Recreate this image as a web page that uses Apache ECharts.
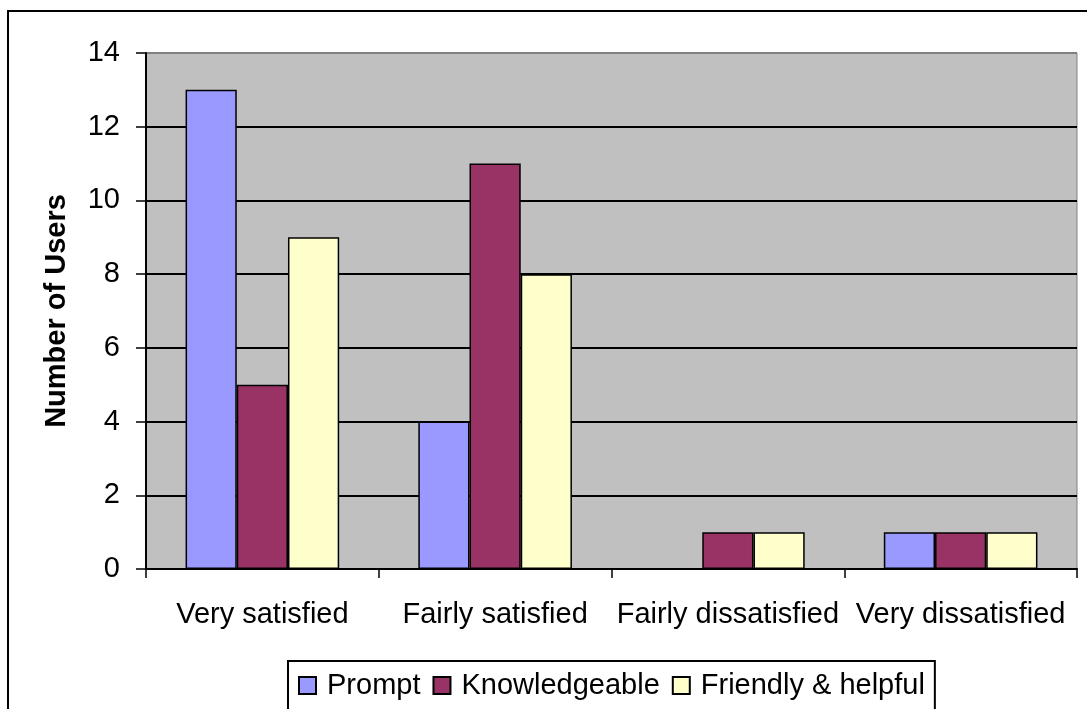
<!DOCTYPE html>
<html>
<head>
<meta charset="utf-8">
<script src="https://cdn.jsdelivr.net/npm/echarts@6/dist/echarts.min.js"></script>
<style>
html,body{margin:0;padding:0;background:#fff;}
#chart{width:1087px;height:709px;}
</style>
</head>
<body>
<div id="chart"></div>
<script>
var categories = ['Very satisfied', 'Fairly satisfied', 'Fairly dissatisfied', 'Very dissatisfied'];
var promptValues = [13, 4, 0, 1];
var knowledgeableValues = [5, 11, 1, 1];
var friendlyValues = [9, 8, 1, 1];
var seriesNames = ['Prompt', 'Knowledgeable', 'Friendly & helpful'];
var seriesColors = ['#9999FF', '#993366', '#FFFFCC'];
var yTicks = [0, 2, 4, 6, 8, 10, 12, 14];

var FONT = '"Liberation Sans", Arial, sans-serif';
var FS = 29;
var chart = echarts.init(document.getElementById('chart'), null, {renderer: 'canvas'});

function barSeries(name, data, color) {
  return {
    name: name,
    type: 'bar',
    data: data,
    barGap: '0%',
    barCategoryGap: '34%',
    itemStyle: {color: color, borderColor: '#000', borderWidth: 1.5},
    emphasis: {disabled: true}
  };
}

chart.setOption({
  animation: false,
  backgroundColor: '#fff',
  textStyle: {fontFamily: FONT},
  grid: {
    left: 146, top: 53, right: 10, bottom: 140,
    show: true, backgroundColor: '#C0C0C0', borderColor: '#808080', borderWidth: 1
  },
  legend: {
    left: 288, top: 661,
    data: seriesNames,
    itemWidth: 17, itemHeight: 17, itemGap: 12,
    padding: [10, 10, 14, 10],
    borderColor: '#000', borderWidth: 2,
    icon: 'rect',
    textStyle: {fontFamily: FONT, fontSize: FS, color: '#000', padding: [0, 0, 0, 6]}
  },
  xAxis: {
    type: 'category',
    data: categories,
    axisLine: {lineStyle: {color: '#000', width: 2}},
    axisTick: {show: true, length: 9, lineStyle: {color: '#000', width: 1.5}, alignWithLabel: false},
    axisLabel: {interval: 0, margin: 31, fontFamily: FONT, fontSize: FS, color: '#000'},
    splitLine: {show: false}
  },
  yAxis: {
    type: 'value',
    min: yTicks[0], max: yTicks[yTicks.length - 1], interval: 2,
    name: 'Number of Users',
    nameLocation: 'middle',
    nameGap: 75,
    nameTextStyle: {fontFamily: FONT, fontSize: FS, fontWeight: 'bold', color: '#000'},
    axisLine: {show: true, lineStyle: {color: '#000', width: 2}},
    axisTick: {show: true, length: 10, lineStyle: {color: '#000', width: 1.5}},
    axisLabel: {margin: 26, fontFamily: FONT, fontSize: FS, color: '#000'},
    splitLine: {show: true, lineStyle: {color: ['#000', '#000', '#000', '#000', '#000', '#000', '#000', '#808080'], width: 2}}
  },
  series: [
    barSeries(seriesNames[0], promptValues, seriesColors[0]),
    barSeries(seriesNames[1], knowledgeableValues, seriesColors[1]),
    barSeries(seriesNames[2], friendlyValues, seriesColors[2])
  ],
  graphic: [{
    type: 'rect',
    shape: {x: 8, y: 11, width: 1100, height: 720},
    style: {fill: 'none', stroke: '#000', lineWidth: 2},
    silent: true,
    z: -1
  }]
});
</script>
</body>
</html>
